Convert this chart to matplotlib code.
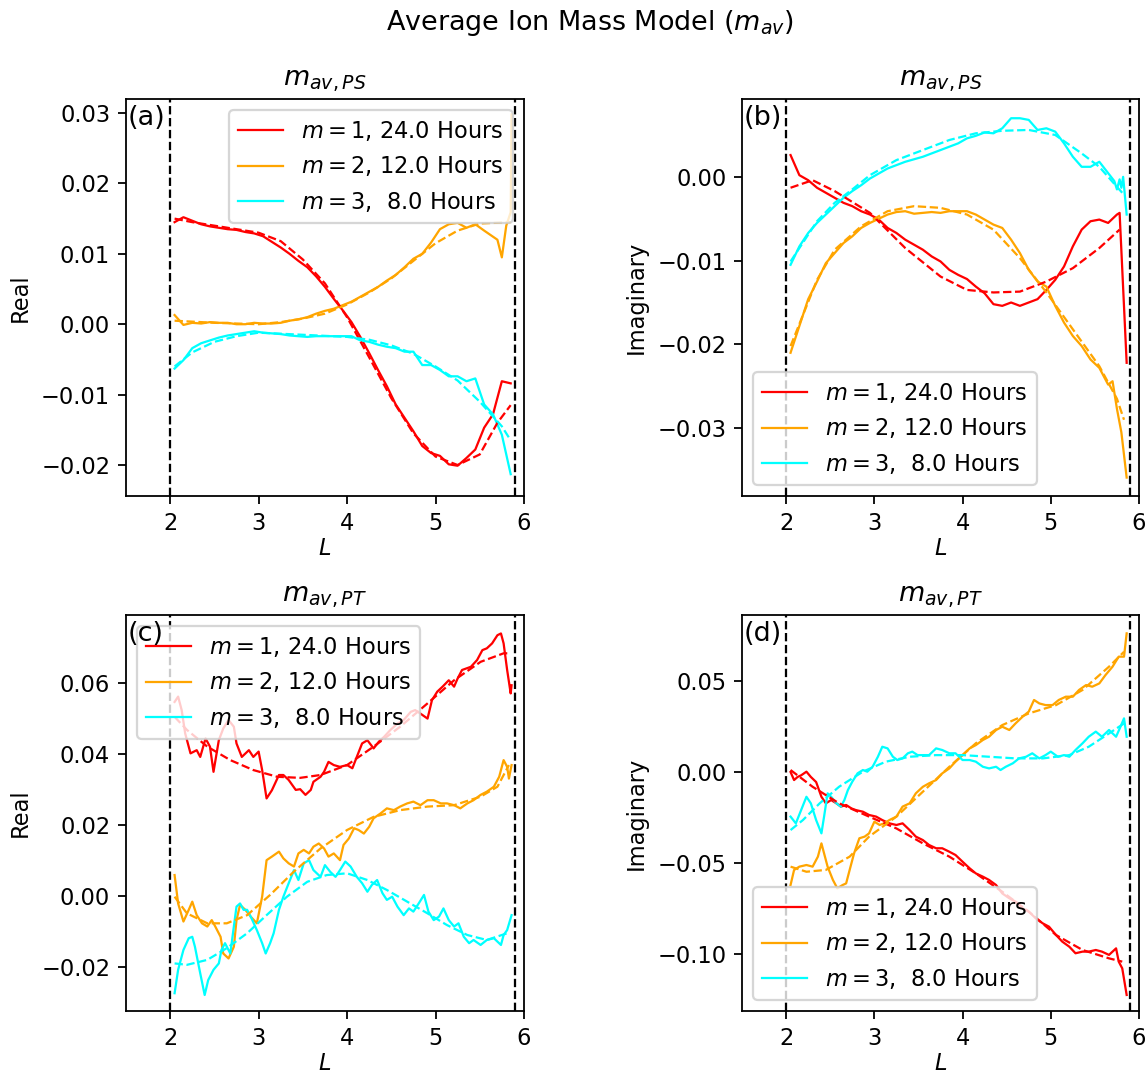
import matplotlib
matplotlib.use("Agg")
import matplotlib.pyplot as plt

# ---- shared grid for the smoother panels (a), (b) ----
GRID = [2.05, 2.15, 2.25, 2.35, 2.45, 2.55, 2.65, 2.75, 2.85, 2.95,
        3.05, 3.15, 3.25, 3.35, 3.45, 3.55, 3.65, 3.75, 3.85, 3.95,
        4.05, 4.15, 4.25, 4.35, 4.45, 4.55, 4.65, 4.75, 4.85, 4.95,
        5.05, 5.15, 5.25, 5.35, 5.45, 5.55, 5.65, 5.75, 5.85]

# ---- panel (a): real part, PS ----
A_RED = [0.0145, 0.0152, 0.0147, 0.0142, 0.0139, 0.0137, 0.0135, 0.0134, 0.0131, 0.0129,
         0.0125, 0.0117, 0.0109, 0.0100, 0.0090, 0.0081, 0.0068, 0.0053, 0.0036, 0.0020,
         0.0003, -0.0018, -0.0041, -0.0065, -0.0088, -0.0114, -0.0133, -0.0152, -0.0173, -0.0183,
         -0.0187, -0.0199, -0.0201, -0.0190, -0.0178, -0.0147, -0.0128, -0.0081, -0.0084]
A_ORA_L = GRID[:-3] + [5.70, 5.75, 5.80, 5.85, 5.86]
A_ORA = [0.0013, -0.0001, 0.0002, 0.0001, 0.0003, 0.0002, 0.0002, 0.0000, 0.0000, 0.0002,
         0.0001, 0.0001, 0.0002, 0.0005, 0.0007, 0.0010, 0.0015, 0.0019, 0.0022, 0.0027,
         0.0032, 0.0039, 0.0046, 0.0053, 0.0062, 0.0070, 0.0081, 0.0093, 0.0100, 0.0116,
         0.0135, 0.0142, 0.0144, 0.0137, 0.0142, 0.0133, 0.0120, 0.0095, 0.0140, 0.0159, 0.0298]
A_CYA = [-0.0063, -0.0051, -0.0034, -0.0027, -0.0023, -0.0019, -0.0016, -0.0014, -0.0012, -0.0010,
         -0.0012, -0.0013, -0.0014, -0.0016, -0.0017, -0.0018, -0.0017, -0.0017, -0.0017, -0.0017,
         -0.0017, -0.0023, -0.0025, -0.0029, -0.0032, -0.0034, -0.0039, -0.0039, -0.0058, -0.0058,
         -0.0065, -0.0074, -0.0074, -0.0081, -0.0077, -0.0114, -0.0128, -0.0157, -0.0213]
A_RED_FIT_L = [2.05, 2.25, 2.5, 2.75, 3.0, 3.25, 3.5, 3.75, 4.0, 4.25, 4.5, 4.75, 5.0, 5.25, 5.5, 5.7, 5.85]
A_RED_FIT = [0.0150, 0.0145, 0.0140, 0.0135, 0.0130, 0.0118, 0.0092, 0.0058, 0.0010, -0.0047,
             -0.0105, -0.0155, -0.0188, -0.0200, -0.0185, -0.0140, -0.0115]
A_ORA_FIT_L = [2.05, 2.5, 3.0, 3.25, 3.5, 3.75, 4.0, 4.25, 4.5, 4.75, 5.0, 5.25, 5.5, 5.85]
A_ORA_FIT = [0.0005, 0.0002, 0.0000, 0.0003, 0.0008, 0.0015, 0.0028, 0.0045, 0.0065, 0.0090,
             0.0115, 0.0133, 0.0143, 0.0145]
A_CYA_FIT_L = [2.05, 2.25, 2.5, 2.75, 3.0, 3.5, 4.0, 4.25, 4.5, 4.75, 5.0, 5.25, 5.5, 5.75, 5.85]
A_CYA_FIT = [-0.0060, -0.0040, -0.0025, -0.0017, -0.0012, -0.0015, -0.0018, -0.0022, -0.0030,
             -0.0042, -0.0060, -0.0080, -0.0110, -0.0145, -0.0165]

# ---- panel (b): imaginary part, PS ----
B_RED_L = GRID[:-1] + [5.78, 5.86]
B_RED = [0.0026, 0.0002, -0.0004, -0.0013, -0.0019, -0.0025, -0.0031, -0.0035, -0.0041, -0.0045,
         -0.0051, -0.0061, -0.0067, -0.0075, -0.0081, -0.0087, -0.0095, -0.0101, -0.0111, -0.0117,
         -0.0122, -0.0131, -0.0139, -0.0152, -0.0154, -0.0150, -0.0154, -0.0150, -0.0146, -0.0135,
         -0.0123, -0.0107, -0.0083, -0.0063, -0.0053, -0.0051, -0.0055, -0.0045, -0.0043, -0.0222]
B_ORA_L = GRID[:-2] + [5.70, 5.75, 5.80, 5.86]
B_ORA = [-0.0210, -0.0178, -0.0146, -0.0125, -0.0103, -0.0091, -0.0079, -0.0071, -0.0061, -0.0055,
         -0.0050, -0.0045, -0.0042, -0.0041, -0.0044, -0.0043, -0.0042, -0.0043, -0.0041, -0.0041,
         -0.0041, -0.0045, -0.0051, -0.0057, -0.0061, -0.0075, -0.0091, -0.0111, -0.0125, -0.0131,
         -0.0154, -0.0174, -0.0190, -0.0202, -0.0218, -0.0228, -0.0248, -0.0244, -0.0277, -0.0305, -0.0359]
B_CYA_L = GRID[:-3] + [5.72, 5.75, 5.78, 5.80, 5.82, 5.86]
B_CYA = [-0.0105, -0.0083, -0.0067, -0.0055, -0.0045, -0.0035, -0.0025, -0.0017, -0.0010, -0.0002,
         0.0004, 0.0010, 0.0014, 0.0018, 0.0021, 0.0024, 0.0028, 0.0032, 0.0036, 0.0040,
         0.0046, 0.0049, 0.0053, 0.0052, 0.0058, 0.0070, 0.0070, 0.0068, 0.0056, 0.0058,
         0.0054, 0.0040, 0.0024, 0.0012, 0.0012, 0.0018, -0.0005, -0.0015, -0.0003, -0.0013, 0.0000, -0.0045]
B_RED_FIT_L = [2.05, 2.30, 2.55, 2.95, 3.35, 3.75, 4.05, 4.35, 4.65, 4.95, 5.25, 5.55, 5.78]
B_RED_FIT = [-0.0013, -0.0004, -0.0017, -0.0043, -0.0085, -0.0119, -0.0135, -0.0138, -0.0137,
             -0.0125, -0.0109, -0.0085, -0.0063]
B_ORA_FIT_L = [2.05, 2.35, 2.55, 2.85, 3.15, 3.45, 3.75, 4.05, 4.35, 4.65, 4.95, 5.25, 5.55, 5.75, 5.83]
B_ORA_FIT = [-0.0202, -0.0123, -0.0087, -0.0059, -0.0041, -0.0035, -0.0037, -0.0045, -0.0063,
             -0.0097, -0.0138, -0.0182, -0.0226, -0.0265, -0.0290]
B_CYA_FIT_L = [2.05, 2.35, 2.55, 2.75, 2.95, 3.25, 3.55, 3.85, 4.15, 4.45, 4.75, 5.05, 5.35, 5.55, 5.75, 5.81]
B_CYA_FIT = [-0.0101, -0.0053, -0.0031, -0.0015, 0.0002, 0.0020, 0.0032, 0.0044, 0.0052, 0.0055,
             0.0056, 0.0050, 0.0028, 0.0012, -0.0012, -0.0019]

# ---- panel (c): real part, PT ----
C_RED_L = [2.05, 2.09, 2.13, 2.17, 2.23, 2.30, 2.34, 2.40, 2.45, 2.49, 2.55, 2.60, 2.66, 2.72, 2.75,
           2.81, 2.89, 2.94, 3.00, 3.04, 3.09, 3.15, 3.23, 3.28, 3.34, 3.42, 3.47, 3.53, 3.59, 3.62,
           3.70, 3.74, 3.79, 3.85, 3.92, 4.00, 4.06, 4.11, 4.17, 4.23, 4.30, 4.36, 4.42, 4.49, 4.57,
           4.64, 4.72, 4.77, 4.83, 4.91, 4.96, 5.02, 5.08, 5.15, 5.21, 5.25, 5.30, 5.40, 5.47, 5.53,
           5.58, 5.64, 5.70, 5.74, 5.77, 5.81, 5.85, 5.86]
C_RED = [0.0547, 0.0562, 0.0524, 0.0458, 0.0402, 0.0411, 0.0392, 0.0444, 0.0421, 0.0350, 0.0439,
         0.0472, 0.0496, 0.0477, 0.0430, 0.0392, 0.0411, 0.0392, 0.0407, 0.0355, 0.0275, 0.0298,
         0.0341, 0.0341, 0.0327, 0.0299, 0.0301, 0.0285, 0.0299, 0.0322, 0.0336, 0.0350, 0.0378,
         0.0369, 0.0364, 0.0369, 0.0360, 0.0392, 0.0430, 0.0439, 0.0416, 0.0435, 0.0449, 0.0468,
         0.0486, 0.0496, 0.0519, 0.0524, 0.0514, 0.0500, 0.0552, 0.0576, 0.0590, 0.0608, 0.0590,
         0.0613, 0.0637, 0.0646, 0.0665, 0.0693, 0.0698, 0.0712, 0.0735, 0.0740, 0.0712, 0.0637,
         0.0571, 0.0594]
C_ORA_L = [2.05, 2.09, 2.15, 2.21, 2.25, 2.30, 2.36, 2.42, 2.47, 2.51, 2.57, 2.60, 2.66, 2.72, 2.75,
           2.79, 2.85, 2.91, 2.98, 3.04, 3.09, 3.15, 3.23, 3.28, 3.34, 3.40, 3.45, 3.51, 3.57, 3.62,
           3.68, 3.74, 3.79, 3.85, 3.92, 3.96, 4.02, 4.08, 4.13, 4.19, 4.25, 4.30, 4.38, 4.45, 4.53,
           4.60, 4.68, 4.75, 4.83, 4.91, 4.98, 5.06, 5.13, 5.21, 5.28, 5.36, 5.43, 5.51, 5.58, 5.66,
           5.72, 5.77, 5.81, 5.83, 5.86]
C_ORA = [0.0059, -0.0021, -0.0072, -0.0039, -0.0016, -0.0054, -0.0077, -0.0086, -0.0068, -0.0086,
         -0.0115, -0.0162, -0.0176, -0.0143, -0.0068, -0.0025, -0.0039, -0.0058, -0.0077, -0.0002,
         0.0101, 0.0111, 0.0125, 0.0106, 0.0092, 0.0083, 0.0120, 0.0130, 0.0120, 0.0139, 0.0148,
         0.0134, 0.0111, 0.0120, 0.0101, 0.0144, 0.0162, 0.0191, 0.0186, 0.0176, 0.0195, 0.0219,
         0.0233, 0.0247, 0.0242, 0.0252, 0.0261, 0.0266, 0.0256, 0.0270, 0.0270, 0.0261, 0.0261,
         0.0256, 0.0247, 0.0261, 0.0270, 0.0285, 0.0294, 0.0308, 0.0336, 0.0383, 0.0364, 0.0331, 0.0369]
C_CYA_L = [2.05, 2.09, 2.15, 2.21, 2.25, 2.28, 2.34, 2.39, 2.43, 2.49, 2.55, 2.58, 2.62, 2.68, 2.72,
           2.75, 2.79, 2.83, 2.87, 2.92, 2.98, 3.04, 3.08, 3.13, 3.17, 3.23, 3.28, 3.34, 3.40, 3.45,
           3.51, 3.57, 3.62, 3.70, 3.75, 3.81, 3.87, 3.92, 3.98, 4.04, 4.11, 4.17, 4.23, 4.28, 4.34,
           4.40, 4.45, 4.51, 4.57, 4.64, 4.70, 4.75, 4.81, 4.87, 4.92, 4.98, 5.04, 5.09, 5.15, 5.21,
           5.26, 5.32, 5.38, 5.43, 5.51, 5.58, 5.66, 5.74, 5.77, 5.81, 5.86]
C_CYA = [-0.0274, -0.0208, -0.0152, -0.0119, -0.0115, -0.0143, -0.0218, -0.0279, -0.0237, -0.0208,
         -0.0190, -0.0152, -0.0133, -0.0162, -0.0086, -0.0030, -0.0021, -0.0039, -0.0039, -0.0063,
         -0.0096, -0.0133, -0.0162, -0.0133, -0.0105, -0.0039, -0.0002, 0.0036, 0.0073, 0.0045,
         0.0092, 0.0101, 0.0073, 0.0054, 0.0087, 0.0068, 0.0054, 0.0073, 0.0097, 0.0083, 0.0054,
         0.0036, 0.0012, 0.0031, 0.0045, 0.0008, -0.0011, -0.0002, -0.0030, -0.0054, -0.0035,
         -0.0044, -0.0021, 0.0003, -0.0044, -0.0068, -0.0058, -0.0035, -0.0068, -0.0086, -0.0077,
         -0.0115, -0.0133, -0.0124, -0.0138, -0.0124, -0.0119, -0.0138, -0.0110, -0.0096, -0.0054]
C_RED_FIT_L = [2.05, 2.19, 2.42, 2.68, 2.94, 3.21, 3.47, 3.70, 4.00, 4.30, 4.60, 4.91, 5.21, 5.51, 5.77, 5.83]
C_RED_FIT = [0.0505, 0.0468, 0.0421, 0.0383, 0.0355, 0.0336, 0.0333, 0.0341, 0.0369, 0.0421,
             0.0477, 0.0543, 0.0608, 0.0660, 0.0684, 0.0684]
C_ORA_FIT_L = [2.05, 2.19, 2.42, 2.64, 2.87, 3.13, 3.40, 3.70, 4.00, 4.30, 4.60, 4.91, 5.21, 5.51, 5.70, 5.83]
C_ORA_FIT = [-0.0002, -0.0049, -0.0077, -0.0077, -0.0054, 0.0003, 0.0069, 0.0134, 0.0186, 0.0223,
             0.0242, 0.0252, 0.0256, 0.0280, 0.0308, 0.0369]
C_CYA_FIT_L = [2.05, 2.19, 2.42, 2.64, 2.87, 3.09, 3.32, 3.55, 3.77, 4.00, 4.23, 4.45, 4.68, 4.91,
               5.13, 5.36, 5.58, 5.81]
C_CYA_FIT = [-0.0190, -0.0194, -0.0180, -0.0147, -0.0105, -0.0054, -0.0002, 0.0040, 0.0059, 0.0064,
             0.0045, 0.0017, -0.0016, -0.0049, -0.0082, -0.0110, -0.0124, -0.0105]

# ---- panel (d): imaginary part, PT ----
D_RED_L = [2.05, 2.09, 2.13, 2.17, 2.23, 2.28, 2.34, 2.40, 2.45, 2.51, 2.57, 2.62, 2.68, 2.74, 2.79,
           2.87, 2.94, 3.02, 3.09, 3.17, 3.25, 3.32, 3.40, 3.47, 3.55, 3.62, 3.70, 3.77, 3.85, 3.92,
           4.00, 4.08, 4.15, 4.23, 4.30, 4.38, 4.45, 4.53, 4.60, 4.68, 4.75, 4.83, 4.91, 4.98, 5.06,
           5.13, 5.21, 5.28, 5.36, 5.43, 5.51, 5.58, 5.66, 5.74, 5.77, 5.81, 5.86]
D_RED = [0.0000, -0.0044, -0.0027, -0.0018, 0.0002, -0.0027, -0.0055, -0.0136, -0.0172, -0.0154,
         -0.0172, -0.0190, -0.0181, -0.0200, -0.0209, -0.0218, -0.0236, -0.0245, -0.0264, -0.0282,
         -0.0291, -0.0282, -0.0319, -0.0355, -0.0374, -0.0401, -0.0419, -0.0419, -0.0438, -0.0456,
         -0.0493, -0.0529, -0.0557, -0.0575, -0.0593, -0.0621, -0.0667, -0.0694, -0.0712, -0.0749,
         -0.0767, -0.0804, -0.0832, -0.0850, -0.0896, -0.0932, -0.0960, -0.0996, -0.0987, -0.0987,
         -0.0978, -0.0987, -0.1005, -0.0969, -0.1042, -0.1079, -0.1225]
D_ORA_L = [2.05, 2.09, 2.15, 2.23, 2.30, 2.36, 2.40, 2.43, 2.47, 2.53, 2.58, 2.64, 2.68, 2.72, 2.77,
           2.83, 2.89, 2.94, 3.00, 3.06, 3.11, 3.17, 3.25, 3.32, 3.40, 3.47, 3.55, 3.62, 3.70, 3.77,
           3.85, 3.92, 4.00, 4.08, 4.15, 4.23, 4.30, 4.38, 4.45, 4.53, 4.60, 4.68, 4.75, 4.81, 4.87,
           4.94, 5.02, 5.09, 5.17, 5.25, 5.32, 5.40, 5.47, 5.55, 5.62, 5.70, 5.77, 5.83, 5.86]
D_ORA = [-0.0621, -0.0538, -0.0520, -0.0511, -0.0520, -0.0465, -0.0392, -0.0447, -0.0520, -0.0593,
         -0.0639, -0.0621, -0.0612, -0.0538, -0.0447, -0.0364, -0.0355, -0.0337, -0.0273, -0.0291,
         -0.0282, -0.0264, -0.0245, -0.0190, -0.0172, -0.0117, -0.0081, -0.0062, -0.0044, -0.0007,
         0.0020, 0.0057, 0.0093, 0.0130, 0.0148, 0.0176, 0.0194, 0.0231, 0.0249, 0.0231, 0.0267,
         0.0304, 0.0332, 0.0396, 0.0377, 0.0368, 0.0368, 0.0396, 0.0414, 0.0414, 0.0451, 0.0478,
         0.0469, 0.0487, 0.0533, 0.0579, 0.0634, 0.0634, 0.0762]
D_CYA_L = [2.05, 2.11, 2.17, 2.23, 2.28, 2.34, 2.40, 2.43, 2.47, 2.51, 2.57, 2.62, 2.66, 2.70, 2.75,
           2.81, 2.87, 2.92, 2.98, 3.04, 3.09, 3.15, 3.21, 3.26, 3.32, 3.38, 3.43, 3.49, 3.55, 3.62,
           3.70, 3.77, 3.85, 3.92, 4.00, 4.08, 4.15, 4.23, 4.30, 4.38, 4.43, 4.49, 4.57, 4.64, 4.72,
           4.79, 4.87, 4.94, 5.00, 5.08, 5.15, 5.21, 5.28, 5.36, 5.43, 5.51, 5.58, 5.66, 5.74, 5.79,
           5.83, 5.86]
D_CYA = [-0.0245, -0.0282, -0.0209, -0.0136, -0.0172, -0.0264, -0.0337, -0.0245, -0.0117, -0.0136,
         -0.0172, -0.0190, -0.0154, -0.0099, -0.0053, -0.0007, 0.0011, 0.0002, 0.0029, 0.0084,
         0.0139, 0.0130, 0.0084, 0.0066, 0.0075, 0.0103, 0.0112, 0.0093, 0.0093, 0.0093, 0.0130,
         0.0121, 0.0103, 0.0103, 0.0066, 0.0066, 0.0057, 0.0029, 0.0020, 0.0029, 0.0011, 0.0029,
         0.0048, 0.0075, 0.0084, 0.0103, 0.0075, 0.0093, 0.0112, 0.0084, 0.0093, 0.0084, 0.0121,
         0.0158, 0.0194, 0.0222, 0.0194, 0.0231, 0.0194, 0.0249, 0.0295, 0.0194]
D_RED_FIT_L = [2.05, 2.30, 2.60, 2.94, 3.25, 3.55, 3.85, 4.15, 4.45, 4.75, 5.06, 5.36, 5.66, 5.81]
D_RED_FIT = [0.0011, -0.0081, -0.0172, -0.0245, -0.0310, -0.0392, -0.0465, -0.0557, -0.0658,
             -0.0767, -0.0896, -0.0978, -0.1024, -0.1042]
D_ORA_FIT_L = [2.05, 2.23, 2.45, 2.72, 2.94, 3.25, 3.55, 3.85, 4.15, 4.45, 4.75, 5.06, 5.36, 5.66, 5.83]
D_ORA_FIT = [-0.0520, -0.0548, -0.0538, -0.0465, -0.0355, -0.0245, -0.0108, 0.0029, 0.0158, 0.0258,
             0.0322, 0.0368, 0.0451, 0.0579, 0.0661]
D_CYA_FIT_L = [2.05, 2.19, 2.38, 2.60, 2.87, 3.13, 3.40, 3.70, 4.00, 4.30, 4.60, 4.91, 5.21, 5.43, 5.66, 5.83]
D_CYA_FIT = [-0.0319, -0.0264, -0.0172, -0.0081, 0.0002, 0.0057, 0.0084, 0.0093, 0.0093, 0.0084,
             0.0075, 0.0075, 0.0093, 0.0139, 0.0212, 0.0267]

LABELS = ["$m = 1$, 24.0 Hours", "$m = 2$, 12.0 Hours", "$m = 3$,  8.0 Hours"]
COLORS = ["red", "orange", "cyan"]
L_INNER, L_OUTER = 2.0, 5.9
XTICKS = [2, 3, 4, 5, 6]
D_YTICKS = [-0.10, -0.05, 0.00, 0.05]
LW = 1.0

PANELS = [
    # tag, title, ylabel, ylim, yticks, legend loc, axes rect, solid series, fit series
    ("(a)", r"$m_{av,PS}$", "Real", (-0.0244, 0.0320), None, "upper right",
     [0.1099, 0.5399, 0.3473, 0.3683],
     [(GRID, A_RED), (A_ORA_L, A_ORA), (GRID, A_CYA)],
     [(A_RED_FIT_L, A_RED_FIT), (A_ORA_FIT_L, A_ORA_FIT), (A_CYA_FIT_L, A_CYA_FIT)]),
    ("(b)", r"$m_{av,PS}$", "Imaginary", (-0.0381, 0.0093), None, "lower left",
     [0.6475, 0.5399, 0.3464, 0.3683],
     [(B_RED_L, B_RED), (B_ORA_L, B_ORA), (B_CYA_L, B_CYA)],
     [(B_RED_FIT_L, B_RED_FIT), (B_ORA_FIT_L, B_ORA_FIT), (B_CYA_FIT_L, B_CYA_FIT)]),
    ("(c)", r"$m_{av,PT}$", "Real", (-0.0324, 0.0792), None, "upper left",
     [0.1099, 0.0622, 0.3473, 0.3673],
     [(C_RED_L, C_RED), (C_ORA_L, C_ORA), (C_CYA_L, C_CYA)],
     [(C_RED_FIT_L, C_RED_FIT), (C_ORA_FIT_L, C_ORA_FIT), (C_CYA_FIT_L, C_CYA_FIT)]),
    ("(d)", r"$m_{av,PT}$", "Imaginary", (-0.1313, 0.0863), D_YTICKS, "lower left",
     [0.6475, 0.0622, 0.3464, 0.3673],
     [(D_RED_L, D_RED), (D_ORA_L, D_ORA), (D_CYA_L, D_CYA)],
     [(D_RED_FIT_L, D_RED_FIT), (D_ORA_FIT_L, D_ORA_FIT), (D_CYA_FIT_L, D_CYA_FIT)]),
]

DPI = 162
fig = plt.figure(figsize=(1146 / DPI, 1078 / DPI), dpi=DPI)
fig.text(0.515, 0.993, "Average Ion Mass Model ($m_{av}$)", ha="center", va="top", fontsize=12)

for tag, title, ylabel, ylim, yticks, loc, rect, solids, fits in PANELS:
    ax = fig.add_axes(rect)
    for (xs, ys), c, lab in zip(solids, COLORS, LABELS):
        ax.plot(xs, ys, color=c, lw=LW, label=lab)
    for (xs, ys), c in zip(fits, COLORS):
        ax.plot(xs, ys, color=c, lw=LW, linestyle="--")
    ax.axvline(L_INNER, color="k", lw=LW, linestyle="--")
    ax.axvline(L_OUTER, color="k", lw=LW, linestyle="--")
    ax.set_xlim(1.5, 6.0)
    ax.set_ylim(*ylim)
    ax.set_xticks(XTICKS)
    if yticks is not None:
        ax.set_yticks(yticks)
    ax.set_xlabel("$L$", labelpad=1)
    ax.set_ylabel(ylabel)
    ax.set_title(title, fontsize=12)
    ax.legend(loc=loc)
    ax.text(0.005, 0.985, tag, transform=ax.transAxes, fontsize=12,
            va="top", ha="left", zorder=10)

fig.savefig("out.png", dpi=DPI)
